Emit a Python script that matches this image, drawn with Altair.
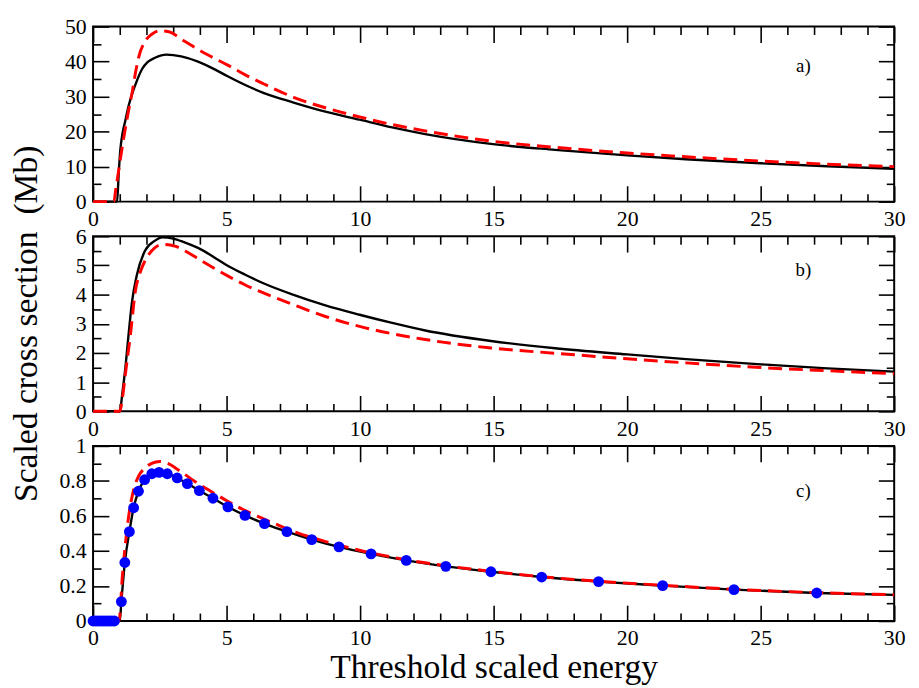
import altair as alt
import pandas as pd

# ---------------- data ----------------
A_BLACK_X = [0, 0.9, 0.96, 1.02, 1.1, 1.21, 1.33, 1.46, 1.64, 1.83, 2.05, 2.32, 2.75, 3.3, 3.93, 4.5,
             5.04, 5.7, 6.4, 7.51, 8.7, 9.98, 11.2, 12.44, 14.9, 17.3, 20, 22.2, 25, 27.5, 30]
A_BLACK_Y = [0, 0, 8, 14.7, 19.3, 23.2, 27.3, 30.7, 34.5, 37.8, 39.9, 41.1, 42.0, 41.5, 40.0, 38.0,
             35.8, 33.3, 31.0, 28.3, 25.7, 23.4, 21.2, 19.3, 16.5, 14.8, 13.2, 12.1, 10.95, 10.1, 9.4]

A_RED_X = [0, 0.78, 0.85, 0.95, 1.05, 1.2, 1.33, 1.46, 1.6, 1.7, 1.95, 2.2, 2.5, 2.8, 3.43, 4.2,
           5.04, 5.7, 6.4, 7.51, 8.7, 9.98, 11.2, 12.44, 14.9, 17.3, 20, 22.2, 25, 27.5, 30]
A_RED_Y = [0, 0, 3.5, 8.5, 13.5, 20.5, 26.0, 31.0, 37.3, 41.0, 45.8, 47.8, 48.8, 48.6, 45.8, 42.3,
           39.0, 36.2, 33.6, 29.8, 26.8, 24.2, 22.0, 20.2, 17.3, 15.5, 13.9, 12.8, 11.6, 10.7, 10.0]

B_BLACK_X = [0, 1.0, 1.1, 1.21, 1.33, 1.46, 1.64, 1.95, 2.32, 2.6, 3.0, 3.4, 3.93, 4.5, 5.04, 5.7,
             6.4, 7.51, 8.7, 9.98, 11.2, 12.44, 14.9, 17.3, 20, 22.2, 25, 27.5, 30]
B_BLACK_Y = [0, 0, 0.65, 1.49, 2.63, 3.76, 4.67, 5.51, 5.85, 5.96, 5.92, 5.80, 5.60, 5.30, 4.99, 4.68,
             4.38, 3.99, 3.63, 3.31, 3.03, 2.77, 2.41, 2.16, 1.95, 1.79, 1.61, 1.47, 1.36]

B_RED_X = [0, 1.0, 1.1, 1.21, 1.4, 1.58, 1.78, 1.95, 2.2, 2.44, 2.7, 3.1, 3.5, 3.93, 4.5, 5.04, 5.7,
           6.4, 7.51, 8.7, 9.98, 11.2, 12.44, 14.9, 17.3, 20, 22.2, 25, 27.5, 30]
B_RED_Y = [0, 0, 0.45, 1.27, 2.63, 4.1, 4.8, 5.17, 5.5, 5.68, 5.72, 5.65, 5.47, 5.23, 4.92, 4.64, 4.33,
           4.05, 3.65, 3.25, 2.91, 2.66, 2.46, 2.17, 1.99, 1.80, 1.66, 1.50, 1.39, 1.29]

C_BLACK_X = [0, 1.0, 1.06, 1.19, 1.36, 1.52, 1.70, 1.93, 2.2, 2.47, 2.78, 3.15, 3.53, 3.98, 4.49, 5.05,
             5.69, 6.42, 7.26, 8.19, 9.21, 10.41, 11.73, 13.21, 14.9, 16.8, 18.93, 21.33, 24.0, 27.1, 30]
C_BLACK_Y = [0, 0, 0.111, 0.334, 0.51, 0.647, 0.741, 0.807, 0.841, 0.849, 0.841, 0.817, 0.785, 0.745,
             0.701, 0.652, 0.603, 0.556, 0.510, 0.465, 0.423, 0.383, 0.346, 0.312, 0.281, 0.251, 0.225,
             0.202, 0.179, 0.160, 0.149]

C_RED_X = [0, 0.97, 1.1, 1.3, 1.52, 1.7, 1.95, 2.2, 2.5, 2.8, 3.2, 3.93, 4.5, 5.04, 5.6, 6.15, 6.9,
           7.63, 8.5, 9.5, 10.41, 11.73, 13.21, 14.9, 16.8, 18.93, 21.33, 24.0, 27.1, 30]
C_RED_Y = [0, 0, 0.26, 0.56, 0.75, 0.826, 0.874, 0.9, 0.911, 0.9, 0.862, 0.785, 0.733, 0.684, 0.638,
           0.599, 0.55, 0.505, 0.463, 0.422, 0.389, 0.35, 0.315, 0.284, 0.253, 0.227, 0.204, 0.181,
           0.162, 0.150]

C_PTS_X = [0, 0.1, 0.2, 0.3, 0.4, 0.5, 0.6, 0.7, 0.8, 1.06, 1.19, 1.36, 1.52, 1.70, 1.93, 2.2, 2.47,
           2.78, 3.15, 3.53, 3.98, 4.49, 5.05, 5.69, 6.42, 7.26, 8.19, 9.21, 10.41, 11.73, 13.21,
           14.9, 16.8, 18.93, 21.33, 24.0, 27.1]
C_PTS_Y = [0, 0, 0, 0, 0, 0, 0, 0, 0, 0.111, 0.334, 0.51, 0.647, 0.741, 0.807, 0.841, 0.849,
           0.841, 0.817, 0.785, 0.745, 0.701, 0.652, 0.603, 0.556, 0.510, 0.465, 0.423, 0.383,
           0.346, 0.312, 0.281, 0.251, 0.225, 0.202, 0.179, 0.160]

PANEL_LABELS = ["a)", "b)", "c)"]
PANEL_LABEL_X = [26.6, 26.6, 26.6]
PANEL_LABEL_Y = [38.8, 4.85, 0.74]

X_MAJOR = [0, 5, 10, 15, 20, 25, 30]
X_MINOR = [1, 2, 3, 4, 6, 7, 8, 9, 11, 12, 13, 14, 16, 17, 18, 19, 21, 22, 23, 24, 26, 27, 28, 29]
A_Y_MAJOR = [0, 10, 20, 30, 40, 50]
A_Y_MINOR = [5, 15, 25, 35, 45]
B_Y_MAJOR = [0, 1, 2, 3, 4, 5, 6]
B_Y_MINOR = [0.5, 1.5, 2.5, 3.5, 4.5, 5.5]
C_Y_MAJOR = [0, 0.2, 0.4, 0.6, 0.8, 1]
C_Y_MINOR = [0.1, 0.3, 0.5, 0.7, 0.9]

X_TITLE = "Threshold scaled energy"
Y_TITLE = "Scaled cross section\u00a0 (Mb)"

FONT = "Liberation Serif"
W, H = 810, 177
MAJ, MIN = 16, 8


def ax(orient, values, size, labels=False, title=None, title_y=None):
    kw = dict(orient=orient, values=values, tickSize=size, offset=-size, domain=False,
              grid=False, ticks=True, tickColor="black", tickWidth=1.6, labels=labels,
              title=title)
    if labels:
        kw.update(labelFont=FONT, labelFontSize=22, labelColor="black",
                  labelPadding=7, labelFlush=False, labelOverlap=False,
                  labelExpr="'' + datum.value")
    if title:
        kw.update(titleFont=FONT, titleFontSize=34, titleFontWeight="normal",
                  titleColor="black")
        if orient == "bottom":
            kw.update(titlePadding=2)
        else:
            kw.update(titlePadding=32)
        if title_y is not None:
            kw.update(titleY=title_y)
    return alt.Axis(**kw)


def panel(bx, by, rx, ry, ymax, ymaj, ymin, idx, pts=None, x_title=None, y_title=None,
          title_y=None):
    xs = alt.Scale(domain=[0, 30], nice=False, zero=False)
    ys = alt.Scale(domain=[0, ymax], nice=False, zero=False)
    black = pd.DataFrame({"x": bx, "y": by})
    red = pd.DataFrame({"x": rx, "y": ry})

    line_b = alt.Chart(black).mark_line(color="black", strokeWidth=2.4,
                                        interpolate="monotone").encode(
        x=alt.X("x:Q", scale=xs, axis=ax("bottom", X_MAJOR, MAJ, True, x_title)),
        y=alt.Y("y:Q", scale=ys, axis=ax("left", ymaj, MAJ, True, y_title, title_y)),
    )
    line_r = alt.Chart(red).mark_line(color="#ff0000", strokeWidth=3, strokeDash=[14, 7],
                                      interpolate="monotone").encode(
        x=alt.X("x:Q", scale=xs, axis=None),
        y=alt.Y("y:Q", scale=ys, axis=None),
    )
    layers = [line_b, line_r]
    if pts is not None:
        pdf = pd.DataFrame({"x": pts[0], "y": pts[1]})
        layers.append(alt.Chart(pdf).mark_circle(color="#0000ff", size=120, opacity=1).encode(
            x=alt.X("x:Q", scale=xs, axis=None),
            y=alt.Y("y:Q", scale=ys, axis=None),
        ))
    tdf = pd.DataFrame({"x": [PANEL_LABEL_X[idx]], "y": [PANEL_LABEL_Y[idx]],
                        "t": [PANEL_LABELS[idx]]})
    layers.append(alt.Chart(tdf).mark_text(font=FONT, fontSize=19, color="black").encode(
        x=alt.X("x:Q", scale=xs, axis=None),
        y=alt.Y("y:Q", scale=ys, axis=None),
        text="t:N",
    ))
    for xo, yo, vals_x, vals_y, size in [
        ("bottom", "left", X_MINOR, ymin, MIN),
        ("top", "right", X_MAJOR, ymaj, MAJ),
        ("top", "right", X_MINOR, ymin, MIN),
    ]:
        layers.append(alt.Chart(black).mark_line(opacity=0).encode(
            x=alt.X("x:Q", scale=xs, axis=ax(xo, vals_x, size)),
            y=alt.Y("y:Q", scale=ys, axis=ax(yo, vals_y, size)),
        ))
    return alt.layer(*layers).resolve_axis(x="independent", y="independent").properties(
        width=W, height=H)


pa = panel(A_BLACK_X, A_BLACK_Y, A_RED_X, A_RED_Y, 50, A_Y_MAJOR, A_Y_MINOR, 0)
pb = panel(B_BLACK_X, B_BLACK_Y, B_RED_X, B_RED_Y, 6, B_Y_MAJOR, B_Y_MINOR, 1,
           y_title=Y_TITLE, title_y=88)
pc = panel(C_BLACK_X, C_BLACK_Y, C_RED_X, C_RED_Y, 1, C_Y_MAJOR, C_Y_MINOR, 2,
           pts=(C_PTS_X, C_PTS_Y), x_title=X_TITLE)

chart = alt.vconcat(pa, pb, pc, spacing=35, bounds="flush").configure(
    font=FONT
).configure_axis(
    labelFont=FONT, titleFont=FONT
).configure_view(
    stroke="black", strokeWidth=2
).properties(
    padding={"left": 0, "top": 3, "right": 5, "bottom": 0}
)

chart.save("out.html", embed_options={"renderer": "svg", "actions": False})
